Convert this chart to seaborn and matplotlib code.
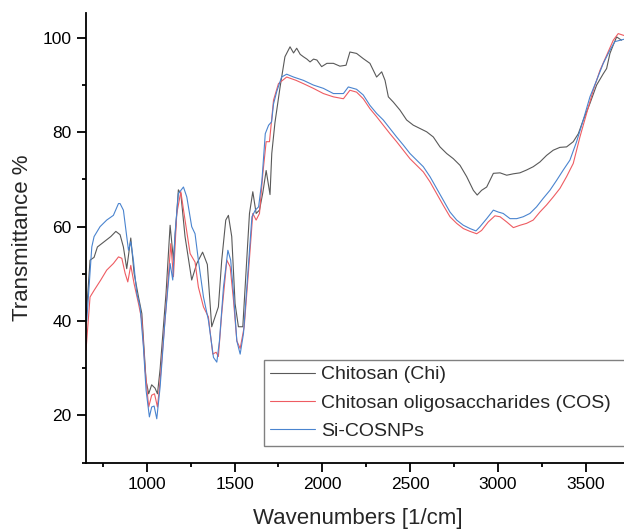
import numpy as np
import pandas as pd
import matplotlib
matplotlib.use("Agg")
import matplotlib.pyplot as plt
import seaborn as sns
from matplotlib.ticker import MultipleLocator
from matplotlib.lines import Line2D

# ---- data ----
series_names = ["Chitosan (Chi)", "Chitosan oligosaccharides (COS)", "Si-COSNPs"]

chi_x = [654, 677, 700, 719, 757, 795, 824, 848, 867, 886, 909, 928, 953, 972, 996, 1011, 1028, 1047, 1061, 1076,
         1110, 1133, 1152, 1180, 1194, 1218, 1256, 1285, 1318, 1345, 1370, 1389, 1408, 1427, 1450, 1465, 1484, 1503,
         1522, 1547, 1566, 1585, 1604, 1623, 1642, 1661, 1680, 1702, 1712, 1730, 1759, 1787, 1816, 1836, 1854, 1874,
         1892, 1912, 1930, 1950, 1969, 1996, 2026, 2063, 2100, 2135, 2157, 2195, 2233, 2271, 2309, 2338, 2357, 2376,
         2404, 2442, 2480, 2518, 2556, 2594, 2632, 2670, 2708, 2746, 2784, 2822, 2860, 2882, 2907, 2936, 2974, 3012,
         3050, 3088, 3125, 3163, 3201, 3239, 3277, 3315, 3353, 3391, 3429, 3458, 3486, 3524, 3562, 3600, 3619, 3638,
         3657, 3676, 3704]
chi_y = [40.2, 52.9, 53.5, 55.7, 56.8, 57.9, 59.0, 58.3, 55.7, 51.1, 57.6, 50.1, 45.1, 41.6, 27.4, 24.6, 26.5, 25.8,
         24.6, 29.8, 46.0, 60.3, 52.9, 67.8, 67.0, 57.9, 48.7, 52.2, 54.6, 52.0, 38.8, 40.9, 43.0, 52.9, 61.4, 62.4,
         57.9, 43.7, 38.8, 38.8, 50.8, 62.8, 67.4, 62.8, 63.5, 67.2, 71.9, 66.8, 75.5, 82.0, 89.5, 96.0, 98.1, 96.8,
         97.8, 96.5, 96.0, 95.5, 94.9, 95.5, 95.3, 93.9, 94.6, 94.6, 94.0, 94.2, 97.0, 96.7, 95.6, 94.6, 91.7, 92.8,
         91.0, 87.5, 86.4, 84.7, 82.6, 81.5, 80.8, 80.1, 79.0, 76.9, 75.5, 74.4, 73.0, 70.6, 67.7, 66.7, 67.7, 68.4,
         71.3, 71.4, 70.9, 71.2, 71.4, 72.0, 72.7, 73.7, 75.1, 76.2, 76.8, 76.9, 78.0, 79.7, 82.6, 86.1, 90.0, 92.4,
         93.5, 96.7, 98.5, 100.2, 99.5]

cos_x = [654, 677, 700, 738, 772, 810, 839, 858, 877, 892, 909, 928, 953, 972, 991, 1011, 1028, 1044, 1061, 1076,
         1110, 1137, 1152, 1171, 1194, 1218, 1247, 1275, 1294, 1323, 1351, 1376, 1395, 1408, 1427, 1456, 1475, 1494,
         1513, 1532, 1555, 1580, 1604, 1623, 1642, 1661, 1680, 1699, 1722, 1750, 1797, 1850, 1892, 1949, 2006, 2063,
         2120, 2157, 2195, 2233, 2271, 2309, 2347, 2385, 2423, 2461, 2499, 2537, 2575, 2613, 2651, 2689, 2727, 2765,
         2803, 2841, 2879, 2907, 2945, 2983, 3012, 3050, 3088, 3126, 3163, 3201, 3239, 3277, 3315, 3353, 3391, 3429,
         3467, 3505, 3543, 3581, 3619, 3657, 3685, 3718]
cos_y = [33.8, 45.1, 46.5, 48.7, 50.8, 52.2, 53.6, 53.3, 50.1, 48.3, 51.8, 47.9, 43.7, 40.2, 29.6, 21.8, 24.3, 24.6,
         21.8, 27.4, 43.0, 56.4, 49.4, 62.8, 67.4, 61.4, 54.3, 52.5, 47.2, 43.0, 40.9, 33.0, 33.4, 32.5, 41.6, 52.9,
         51.5, 44.4, 35.8, 34.2, 38.8, 50.8, 62.8, 61.4, 62.8, 71.2, 78.0, 78.0, 86.8, 90.3, 91.7, 91.0, 90.3, 89.3,
         88.2, 87.5, 87.1, 88.9, 88.5, 87.1, 85.0, 83.3, 81.5, 79.7, 78.0, 76.2, 74.4, 73.0, 71.6, 69.5, 67.0, 64.5,
         62.1, 60.7, 59.6, 59.0, 58.5, 59.2, 61.0, 62.3, 62.1, 61.0, 59.8, 60.3, 60.7, 61.4, 63.1, 64.6, 66.3, 68.1,
         70.6, 73.4, 79.0, 84.0, 88.9, 93.1, 96.3, 99.5, 100.9, 100.5]

si_x = [658, 687, 700, 734, 772, 810, 839, 848, 867, 886, 896, 909, 924, 943, 962, 981, 996, 1015, 1028, 1042, 1057,
        1076, 1104, 1133, 1148, 1161, 1180, 1209, 1228, 1256, 1275, 1294, 1323, 1351, 1380, 1399, 1414, 1437, 1462,
        1478, 1494, 1513, 1532, 1551, 1570, 1599, 1618, 1637, 1656, 1675, 1694, 1711, 1722, 1740, 1768, 1797, 1836,
        1892, 1949, 2006, 2063, 2120, 2148, 2195, 2233, 2271, 2309, 2347, 2385, 2423, 2461, 2499, 2537, 2575, 2613,
        2651, 2689, 2727, 2765, 2803, 2841, 2875, 2898, 2936, 2974, 3002, 3030, 3069, 3107, 3144, 3182, 3220, 3258,
        3296, 3334, 3372, 3410, 3448, 3486, 3524, 3562, 3600, 3638, 3666, 3718]
si_y = [40.0, 55.7, 57.9, 60.0, 61.4, 62.4, 64.9, 64.9, 63.5, 57.9, 55.0, 56.8, 52.9, 45.9, 43.0, 34.5, 25.4, 19.7,
        21.8, 22.0, 19.3, 26.0, 40.2, 52.2, 48.7, 58.5, 67.0, 68.4, 66.3, 60.0, 58.5, 52.9, 45.1, 40.2, 32.3, 31.3,
        35.8, 47.2, 55.0, 52.9, 45.9, 35.8, 33.0, 37.4, 47.2, 62.1, 63.5, 64.2, 69.8, 79.7, 81.5, 82.2, 86.0, 88.6,
        91.7, 92.3, 91.7, 91.0, 90.0, 89.3, 88.2, 88.2, 89.6, 89.1, 87.9, 85.7, 84.0, 82.6, 80.8, 79.0, 77.3, 75.5,
        74.1, 72.7, 70.6, 68.1, 65.6, 63.1, 61.4, 60.3, 59.6, 59.1, 60.0, 61.7, 63.5, 63.1, 62.8, 61.7, 61.7, 62.1,
        62.8, 64.2, 66.0, 67.7, 69.8, 72.0, 74.1, 78.0, 82.6, 87.5, 91.0, 94.6, 97.4, 99.2, 99.7]

x_ticks = [1000, 1500, 2000, 2500, 3000, 3500]
y_ticks = [20, 40, 60, 80, 100]

# ---- build long table ----
frames = []
for name, xs, ys in zip(series_names, [chi_x, cos_x, si_x], [chi_y, cos_y, si_y]):
    frames.append(pd.DataFrame({"wn": xs, "T": ys, "sample": name}))
df = pd.concat(frames, ignore_index=True)

sns.set_theme(style="ticks")
plt.rcParams["font.family"] = ["Liberation Sans", "DejaVu Sans"]

fig = plt.figure(figsize=(6.24, 5.32), dpi=100)
ax = fig.add_axes([86 / 624, 1 - 462.7 / 532, 1 - 86 / 624, (462.7 - 13.3) / 532])

palette = {series_names[0]: "#595959", series_names[1]: "#ee5c62", series_names[2]: "#4a84cf"}
sns.lineplot(data=df, x="wn", y="T", hue="sample", palette=palette, sort=False,
             estimator=None, linewidth=0.8, ax=ax, legend=False)

ax.set_xlim(654, 3718)
ax.set_ylim(10, 105.2)
ax.set_xticks(x_ticks)
ax.set_yticks(y_ticks)
ax.xaxis.set_minor_locator(MultipleLocator(250))
ax.yaxis.set_minor_locator(MultipleLocator(10))

for s in ["top", "right"]:
    ax.spines[s].set_visible(False)
for s in ["left", "bottom"]:
    ax.spines[s].set_linewidth(1.3)
    ax.spines[s].set_color("black")

ax.tick_params(axis="both", which="major", direction="out", length=6.5, width=1.3,
               labelsize=12.5, colors="black", pad=4)
ax.tick_params(axis="both", which="minor", direction="out", length=3, width=1.3, colors="black")

ax.set_xlabel("Wavenumbers [1/cm]", fontsize=16)
ax.set_ylabel("Transmittance %", fontsize=16)
ax.xaxis.set_label_coords(0.505, -0.1)
ax.yaxis.set_label_coords(-0.098, 0.5)

# legend (box runs past the right edge, as in the cropped reference)
handles = [Line2D([], [], color=palette[n], linewidth=0.8) for n in series_names]
leg = fig.legend(handles, series_names, loc="upper left",
                 bbox_to_anchor=(264 / 624, 1 - 360 / 532, 420 / 624, 0), mode="expand",
                 fontsize=14, frameon=True, fancybox=False, handlelength=2.3, handletextpad=0.35,
                 labelspacing=0.55, borderpad=0.3, borderaxespad=0)
leg.get_frame().set_edgecolor("#808080")
leg.get_frame().set_linewidth(1.0)
leg.get_frame().set_alpha(1)

fig.savefig("out.png", dpi=100)
